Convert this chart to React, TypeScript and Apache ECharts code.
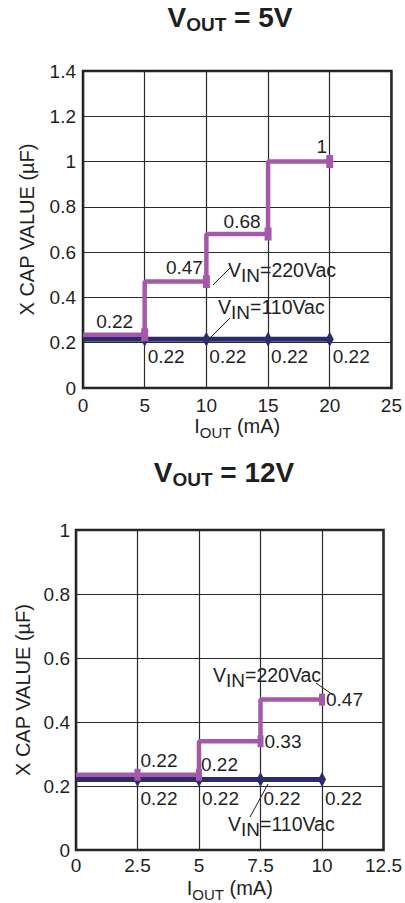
import React, { useEffect, useRef } from 'react';
import * as echarts from 'echarts';

const FONT = '"Liberation Sans", Arial, Helvetica, sans-serif';
const PURPLE = '#a55aa9';
const NAVY = '#2c2c6b';
const INK = '#1f1f1f';

// ---------- VOUT = 5V ----------
const iout5V = [0, 5, 10, 15, 20];
const cap220V_5V = [0.235, 0.235, 0.47, 0.68, 1.0];
const cap220VText_5V = ['', '0.22', '0.47', '0.68', '1'];
const cap110V_5V = [0.215, 0.215, 0.215, 0.215, 0.215];
const cap110VText_5V = ['', '0.22', '0.22', '0.22', '0.22'];
const xRange5V = [0, 25, 5];
const yRange5V = [0, 1.4, 0.2];

// ---------- VOUT = 12V ----------
const iout12V = [0, 2.5, 5, 7.5, 10];
const cap220V_12V = [0.235, 0.235, 0.235, 0.34, 0.47];
const cap220VText_12V = ['', '0.22', '0.22', '0.33', '0.47'];
const cap110V_12V = [0.22, 0.22, 0.22, 0.22, 0.22];
const cap110VText_12V = ['', '0.22', '0.22', '0.22', '0.22'];
const xRange12V = [0, 12.5, 2.5];
const yRange12V = [0, 1, 0.2];

// label placement (styling only)
const purpleLabelPos5V: any[] = [null, [-30, -13, 'center'], [-22, -14, 'center'], [-26, -13, 'center'], [-8, -15, 'center']];
const purpleLabelPos12V: any[] = [null, [3, -14, 'left'], [2, -10, 'left'], [4, 0, 'left'], [4, 0, 'left']];

function buildSeries(
  xs: number[], ys: number[], texts: string[], axis: number,
  color: string, width: number, symbol: string, symbolSize: number[],
  labelPos: (i: number) => any, z: number, step: boolean
) {
  return {
    type: 'line',
    xAxisIndex: axis,
    yAxisIndex: axis,
    step: step ? 'start' : false,
    z,
    symbol,
    symbolSize,
    lineStyle: { color, width },
    itemStyle: { color },
    data: xs.map((x, i) => {
      const p = labelPos(i);
      return {
        value: [x, ys[i]],
        symbol: i === 0 ? 'none' : symbol,
        label: p
          ? {
              show: true,
              position: 'inside',
              formatter: texts[i],
              offset: [p[0], p[1]],
              align: p[2],
              verticalAlign: 'middle',
              color: INK,
              fontFamily: FONT,
              fontSize: 19,
            }
          : { show: false },
      };
    }),
  };
}

function axisPair(grid: number, xr: number[], yr: number[], xNameGap: number, yNameGap: number, xMargin: number, yMargin: number) {
  const labelStyle = { color: INK, fontFamily: FONT, fontSize: 19 };
  const split = { show: true, lineStyle: { color: '#2a2a2a', width: 1.2 } };
  const x = {
    type: 'value', gridIndex: grid, min: xr[0], max: xr[1], interval: xr[2],
    axisLine: { show: false }, axisTick: { show: false },
    axisLabel: { ...labelStyle, margin: xMargin, showMaxLabel: true },
    splitLine: split,
    name: '{m|I}{s|OUT}{m| (mA)}',
    nameLocation: 'middle',
    nameGap: xNameGap,
    nameTextStyle: {
      color: INK, fontFamily: FONT,
      rich: {
        m: { fontSize: 20, lineHeight: 20, verticalAlign: 'top', color: INK, fontFamily: FONT },
        s: { fontSize: 15, lineHeight: 24, verticalAlign: 'bottom', color: INK, fontFamily: FONT },
      },
    },
  };
  const y = {
    type: 'value', gridIndex: grid, min: yr[0], max: yr[1], interval: yr[2],
    axisLine: { show: false }, axisTick: { show: false },
    axisLabel: { ...labelStyle, margin: yMargin },
    splitLine: split,
    name: 'X CAP VALUE (µF)',
    nameLocation: 'middle',
    nameRotate: 90,
    nameGap: yNameGap,
    nameTextStyle: { color: INK, fontFamily: FONT, fontSize: 20 },
  };
  return { x, y };
}

function subText(main1: string, sub: string, main2: string) {
  return `{m|${main1}}{s|${sub}}{m|${main2}}`;
}

const annRich = {
  m: { fontSize: 19.5, lineHeight: 20, verticalAlign: 'top', fontFamily: FONT, fill: INK },
  s: { fontSize: 19, lineHeight: 25, verticalAlign: 'bottom', fontFamily: FONT, fill: INK },
};
const titleRich = {
  m: { fontSize: 28, fontWeight: 'bold', lineHeight: 28, verticalAlign: 'top', fontFamily: FONT, fill: INK },
  s: { fontSize: 19, fontWeight: 'bold', lineHeight: 31, verticalAlign: 'bottom', fontFamily: FONT, fill: INK },
};

export default function App() {
  const ref = useRef<HTMLDivElement>(null);
  useEffect(() => {
    if (!ref.current) return;
    const chart = echarts.init(ref.current, undefined, { renderer: 'svg' });
    const a1 = axisPair(0, xRange5V, yRange5V, 28, 46, 8, 7);
    const a2 = axisPair(1, xRange12V, yRange12V, 28, 40, 6, 6);
    const option: any = {
      animation: false,
      backgroundColor: '#ffffff',
      grid: [
        { left: 83, top: 71, width: 318, height: 317, show: true, borderColor: INK, borderWidth: 2.5, backgroundColor: 'transparent' },
        { left: 76, top: 530, width: 322, height: 322, show: true, borderColor: INK, borderWidth: 2.5, backgroundColor: 'transparent' },
      ],
      xAxis: [a1.x, a2.x],
      yAxis: [a1.y, a2.y],
      series: [
        buildSeries(iout5V, cap110V_5V, cap110VText_5V, 0, NAVY, 5, 'diamond', [8, 15], (i) => (i ? [3, 17, 'left'] : null), 3, false),
        buildSeries(iout5V, cap220V_5V, cap220VText_5V, 0, PURPLE, 4.5, 'rect', [7, 13], (i) => purpleLabelPos5V[i], 4, true),
        buildSeries(iout12V, cap110V_12V, cap110VText_12V, 1, NAVY, 5, 'diamond', [8, 15], (i) => (i ? [3, 19, 'left'] : null), 3, false),
        buildSeries(iout12V, cap220V_12V, cap220VText_12V, 1, PURPLE, 4.5, 'rect', [6, 12], (i) => purpleLabelPos12V[i], 4, true),
      ],
      graphic: [
        { type: 'text', x: 230, y: 3, style: { text: subText('V', 'OUT', ' = 5V'), rich: titleRich, align: 'center', verticalAlign: 'top', fontFamily: FONT, fill: INK } },
        { type: 'text', x: 224, y: 458, style: { text: subText('V', 'OUT', ' = 12V'), rich: titleRich, align: 'center', verticalAlign: 'top', fontFamily: FONT, fill: INK } },
        // chart 1 annotations
        { type: 'text', x: 228, y: 260, style: { text: subText('V', 'IN', '=220Vac'), rich: annRich, align: 'left', verticalAlign: 'top', fontFamily: FONT, fill: INK } },
        { type: 'line', shape: { x1: 230, y1: 268, x2: 213, y2: 285 }, style: { stroke: INK, lineWidth: 1 } },
        { type: 'text', x: 218, y: 297, style: { text: subText('V', 'IN', '=110Vac'), rich: annRich, align: 'left', verticalAlign: 'top', fontFamily: FONT, fill: INK } },
        { type: 'line', shape: { x1: 230, y1: 318, x2: 211, y2: 337 }, style: { stroke: INK, lineWidth: 1 } },
        // chart 2 annotations
        { type: 'text', x: 213, y: 665, style: { text: subText('V', 'IN', '=220Vac'), rich: annRich, align: 'left', verticalAlign: 'top', fontFamily: FONT, fill: INK } },
        { type: 'line', shape: { x1: 316, y1: 683, x2: 333, y2: 695 }, style: { stroke: INK, lineWidth: 1 } },
        { type: 'text', x: 228, y: 814, style: { text: subText('V', 'IN', '=110Vac'), rich: annRich, align: 'left', verticalAlign: 'top', fontFamily: FONT, fill: INK } },
        { type: 'line', shape: { x1: 250, y1: 817, x2: 268, y2: 784 }, style: { stroke: INK, lineWidth: 1 } },
      ],
    };
    chart.setOption(option);
    return () => chart.dispose();
  }, []);
  return <div ref={ref} style={{ position: 'absolute', left: 0, top: 0, width: 405, height: 903 }} />;
}
